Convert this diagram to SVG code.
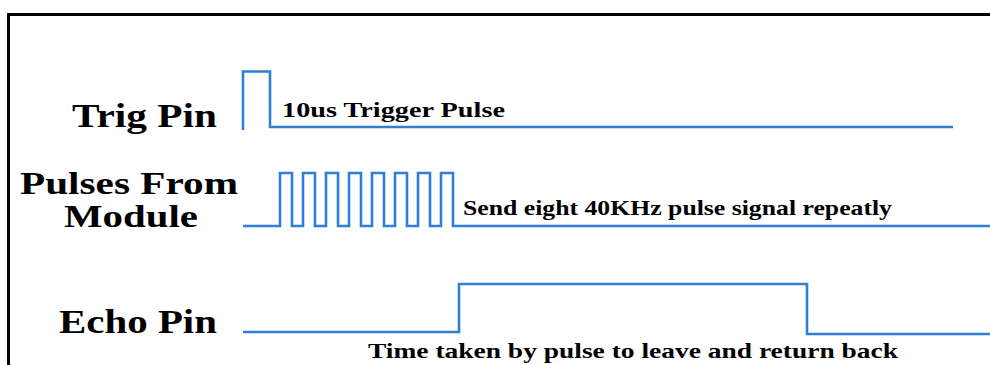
<svg xmlns="http://www.w3.org/2000/svg" width="990" height="365" viewBox="0 0 990 365">
<style>
.sig{fill:none;stroke:#2f7fd6;stroke-width:2.6;stroke-linejoin:miter}
.lbl{font-family:"Liberation Serif","Times New Roman",serif;font-weight:bold;fill:#000}
.big{font-size:34px}
.mid{font-size:31px}
.sm{font-size:21px}
</style>
<rect width="990" height="365" fill="#fff"/>
<path d="M8.5,365 V14.5 H990" fill="none" stroke="#000" stroke-width="3"/>
<g id="trig">
<text class="lbl big" x="72" y="127" textLength="145" lengthAdjust="spacingAndGlyphs">Trig Pin</text>
<text class="lbl sm" x="282" y="117" textLength="223" lengthAdjust="spacingAndGlyphs">10us Trigger Pulse</text>
</g>
<g id="pulses">
<text class="lbl mid" x="20" y="194" textLength="218" lengthAdjust="spacingAndGlyphs">Pulses From</text>
<text class="lbl mid" x="64" y="227" textLength="134" lengthAdjust="spacingAndGlyphs">Module</text>
<text class="lbl sm" x="463" y="215" textLength="429" lengthAdjust="spacingAndGlyphs">Send eight 40KHz pulse signal repeatly</text>
</g>
<g id="echo">
<text class="lbl big" x="59" y="333" textLength="158" lengthAdjust="spacingAndGlyphs">Echo Pin</text>
<text class="lbl sm" x="368" y="358" textLength="530" lengthAdjust="spacingAndGlyphs">Time taken by pulse to leave and return back</text>
</g>
<g id="connectors">
<path class="sig" d="M243,130 V71.5 H270 V127 H953"/>
<path class="sig" d="M243,226 H280 V173 H292 V226 H303 V173 H315 V226 H326 V173 H338 V226 H349 V173 H361 V226 H372 V173 H384 V226 H395 V173 H407 V226 H418 V173 H430 V226 H441 V173 H453 V226 H990"/>
<path class="sig" d="M243,332 H459 V284 H807 V334 H990"/>
</g>
</svg>
